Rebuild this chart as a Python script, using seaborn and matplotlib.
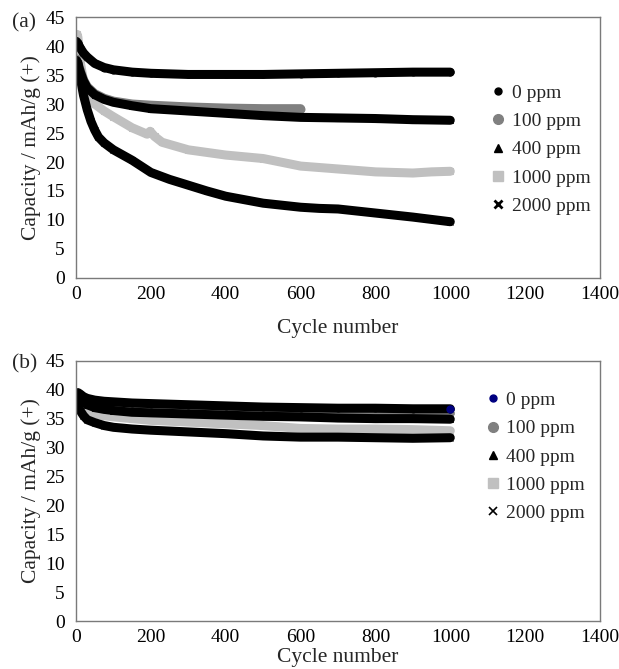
"""
Capacity fade vs cycle number for different additive levels, panels (a) and (b).
"""

import matplotlib
matplotlib.use("Agg")
import matplotlib.pyplot as plt
from matplotlib.lines import Line2D
import seaborn as sns

# ---- data ---------------------------------------------------------------
cycles = [1, 5, 10, 20, 30, 50, 75, 100, 150, 200, 300, 400, 500, 600, 700, 800, 900, 1000]

# panel (a)
a_0ppm = [40.8, 40.5, 39.8, 38.8, 38.1, 37.0, 36.3, 35.9, 35.5, 35.3, 35.1, 35.1, 35.1, 35.2, 35.3, 35.4, 35.5, 35.5]
a_400ppm = [37.5, 37.0, 35.8, 34.0, 32.8, 31.6, 30.8, 30.3, 29.7, 29.2, 28.8, 28.4, 28.0, 27.7, 27.6, 27.5, 27.3, 27.2]

a_100ppm_cycles = [1, 5, 10, 20, 30, 50, 75, 100, 150, 200, 300, 400, 500, 600]
a_100ppm = [37.8, 37.2, 36.0, 34.2, 33.0, 31.8, 31.0, 30.5, 30.0, 29.8, 29.5, 29.3, 29.2, 29.2]

a_1000ppm_cycles = [1, 3, 5, 8, 12, 20, 30, 50, 75, 100, 150, 190, 198, 210, 230, 300, 400, 500, 600, 700, 800, 900, 950, 1000]
a_1000ppm = [42.0, 42.0, 41.5, 39.5, 37.0, 34.0, 32.0, 30.0, 28.8, 27.8, 25.9, 24.8, 25.3, 24.4, 23.4, 22.1, 21.2, 20.6, 19.3, 18.8, 18.3, 18.1, 18.3, 18.4]

a_2000ppm_cycles = [1, 5, 10, 20, 30, 40, 50, 60, 75, 100, 150, 200, 250, 300, 350, 400, 500, 600, 650, 700, 800, 900, 1000]
a_2000ppm = [37.5, 37.0, 35.0, 31.5, 29.0, 27.0, 25.5, 24.3, 23.3, 22.1, 20.3, 18.2, 17.0, 16.0, 15.0, 14.1, 12.9, 12.2, 12.0, 11.9, 11.2, 10.5, 9.7]

# panel (b)
b_0ppm = [39.0, 39.5, 39.3, 38.8, 38.5, 38.2, 38.0, 37.9, 37.7, 37.6, 37.4, 37.2, 37.0, 36.9, 36.8, 36.8, 36.7, 36.7]
b_100ppm = [38.8, 39.2, 39.0, 38.4, 38.0, 37.6, 37.3, 37.1, 37.0, 36.9, 36.7, 36.5, 36.3, 36.2, 36.1, 36.0, 35.9, 35.9]
b_400ppm = [38.5, 39.0, 38.6, 37.9, 37.4, 36.9, 36.6, 36.4, 36.1, 36.0, 35.8, 35.6, 35.4, 35.3, 35.1, 35.0, 35.0, 34.9]
b_1000ppm = [38.0, 38.5, 38.0, 37.0, 36.3, 35.8, 35.5, 35.3, 35.0, 34.7, 34.4, 34.1, 33.8, 33.3, 33.2, 33.2, 33.1, 32.9]
b_2000ppm = [37.8, 37.5, 36.5, 35.5, 34.8, 34.3, 33.8, 33.5, 33.2, 33.0, 32.7, 32.4, 32.0, 31.8, 31.8, 31.7, 31.6, 31.7]

labels = ["0 ppm", "100 ppm", "400 ppm", "1000 ppm", "2000 ppm"]
x_ticks = [0, 200, 400, 600, 800, 1000, 1200, 1400]
y_ticks = [0, 5, 10, 15, 20, 25, 30, 35, 40, 45]

BLACK = "#000000"
DARK_GRAY = "#808080"
LIGHT_GRAY = "#c0c0c0"
NAVY = "#000080"
AXIS_GRAY = "#7a7a7a"
BAND_LW = 6.5

sns.set_theme(style="white")
plt.rcParams["font.family"] = ["Liberation Serif", "DejaVu Serif"]


def band(ax, x, y, color, marker, ms=5):
    sns.lineplot(x=x, y=y, ax=ax, color=color, linewidth=BAND_LW, marker=marker,
                 markersize=ms, markeredgecolor=color, solid_capstyle="round",
                 estimator=None, sort=False, legend=False)


def style_axes(ax, xpad):
    ax.set_xlim(0, 1400)
    ax.set_ylim(0, 45)
    ax.set_xticks(x_ticks)
    ax.set_yticks(y_ticks)
    ax.tick_params(axis="both", direction="in", length=5, width=1, color=AXIS_GRAY,
                   labelsize=14, labelcolor="black")
    ax.tick_params(axis="x", pad=6)
    ax.tick_params(axis="y", pad=8)
    for sp in ax.spines.values():
        sp.set_color(AXIS_GRAY)
        sp.set_linewidth(1.0)
    ax.set_xlabel("Cycle number", fontsize=15.5, labelpad=xpad)
    ax.set_ylabel("Capacity / mAh/g (+)", fontsize=15.5, labelpad=3)


def legend(ax, first_color, anchor, x_style):
    handles = [
        Line2D([], [], ls="none", marker="o", ms=5, color=first_color),
        Line2D([], [], ls="none", marker="o", ms=7, color=DARK_GRAY),
        Line2D([], [], ls="none", marker="^", ms=6, color=BLACK),
        Line2D([], [], ls="none", marker="s", ms=7, color=LIGHT_GRAY),
        Line2D([], [], ls="none", marker="x", ms=6, mew=x_style, color=BLACK),
    ]
    ax.legend(handles, labels, loc="center left", bbox_to_anchor=anchor, frameon=False,
              fontsize=14, borderpad=0, handlelength=0.8, handletextpad=0.3,
              labelspacing=0.55)


fig = plt.figure(figsize=(6.19, 6.69), dpi=100)
ax_a = fig.add_axes([0.1228, 0.5845, 0.8465, 0.390])
ax_b = fig.add_axes([0.1228, 0.0717, 0.8465, 0.389])

# panel (a)
band(ax_a, a_1000ppm_cycles, a_1000ppm, LIGHT_GRAY, "s")
band(ax_a, a_100ppm_cycles, a_100ppm, DARK_GRAY, "o")
band(ax_a, a_2000ppm_cycles, a_2000ppm, BLACK, "x")
band(ax_a, cycles, a_400ppm, BLACK, "^")
band(ax_a, cycles, a_0ppm, BLACK, "o")
style_axes(ax_a, 11)
legend(ax_a, BLACK, (0.772, 0.492), 2.0)

# panel (b)
band(ax_b, cycles, b_100ppm, DARK_GRAY, "o")
band(ax_b, cycles, b_1000ppm, LIGHT_GRAY, "s")
band(ax_b, cycles, b_0ppm, BLACK, "o")
band(ax_b, cycles, b_400ppm, BLACK, "^")
band(ax_b, cycles, b_2000ppm, BLACK, "x")
# last 0 ppm point shown in navy, as in the reference
ax_b.plot(cycles, b_0ppm, ls="none", marker="o", ms=5, color=NAVY, markevery=[-1])
style_axes(ax_b, 1.5)
legend(ax_b, NAVY, (0.762, 0.631), 1.2)

fig.text(0.019, 0.966, "(a)", fontsize=15.5, va="center", ha="left")
fig.text(0.019, 0.456, "(b)", fontsize=15.5, va="center", ha="left")

fig.savefig("out.png", dpi=100)
